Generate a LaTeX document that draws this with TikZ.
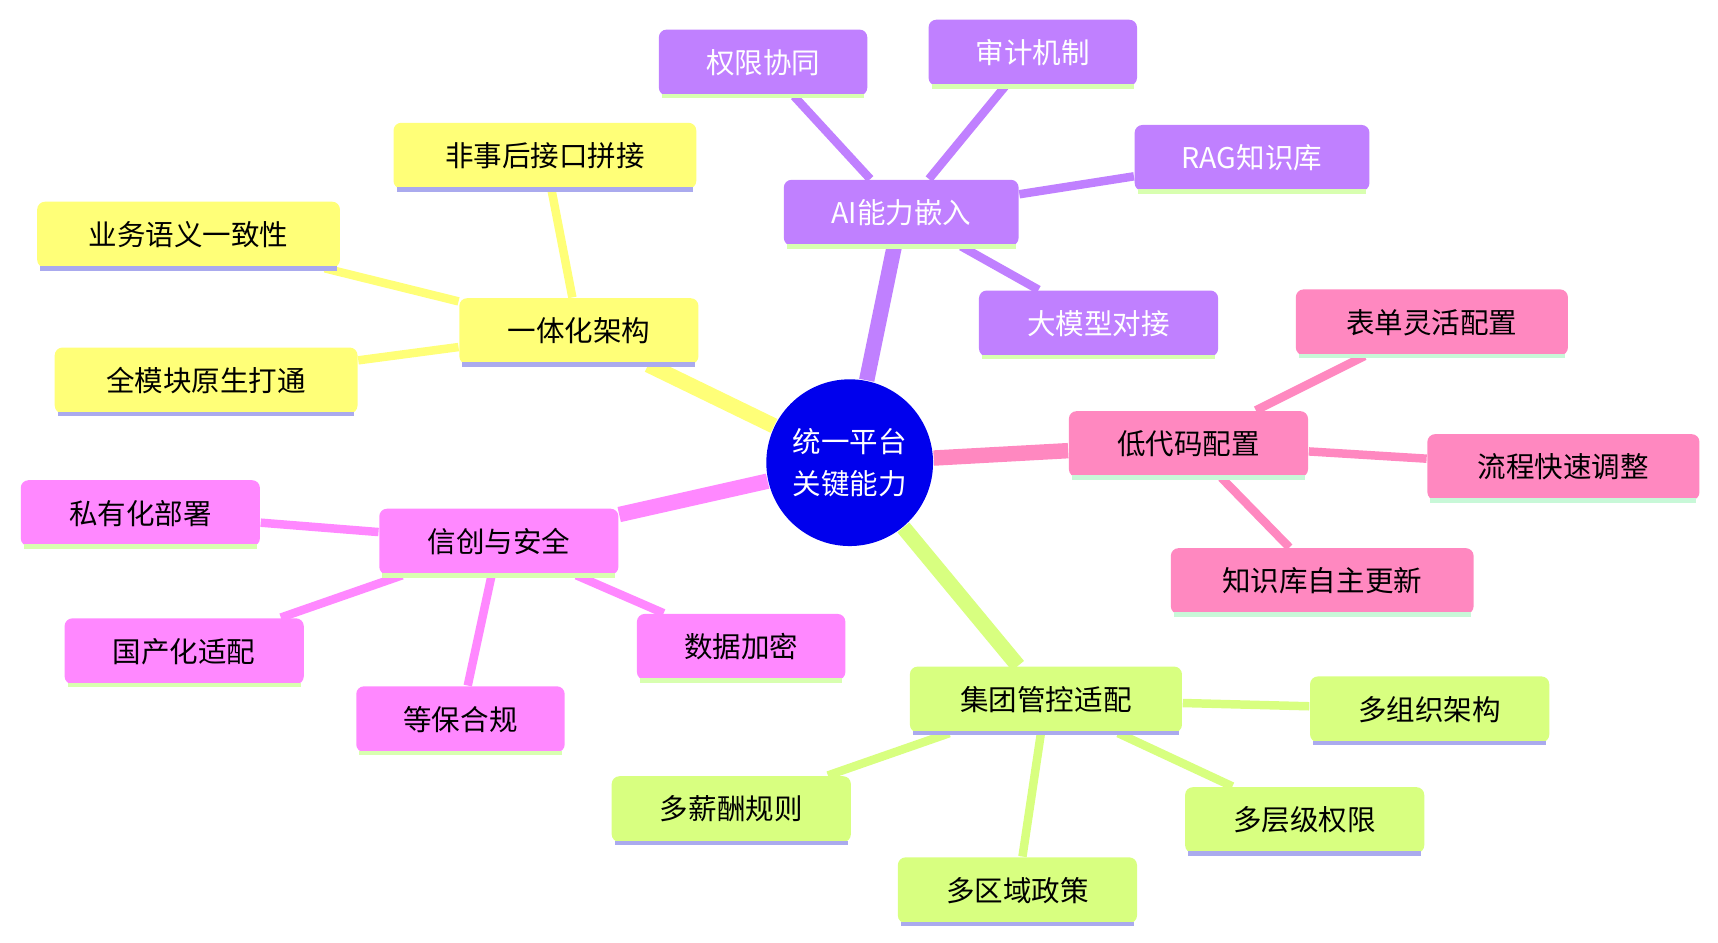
\documentclass[tikz,border=0pt]{standalone}
\usepackage{fontspec}
\setmainfont{Noto Sans CJK SC}
\usetikzlibrary{backgrounds}
\definecolor{yel}{HTML}{FFFF78}
\definecolor{pur}{HTML}{C080FF}
\definecolor{pnk}{HTML}{FF88C0}
\definecolor{mag}{HTML}{FF88FF}
\definecolor{grn}{HTML}{D8FF80}
\definecolor{lav}{HTML}{AAAAEE}
\definecolor{mnt}{HTML}{C8F8D8}
\definecolor{lgr}{HTML}{D8FFB0}
\tikzset{
  box/.style={rounded corners=2pt, minimum height=0.6cm, inner sep=0pt,
    font=\fontsize{7.4pt}{9pt}\selectfont},
  strip/.style={draw=#1, line width=1.2pt},
  trunk/.style={line width=4pt},
  twig/.style={line width=2.2pt}
}
\newcommand{\leaf}[6]{% name, x, y, width, fill, text
  \node[box, fill=#5, minimum width=#4cm] (#1) at (#2,#3) {#6};}
\begin{document}
\begin{tikzpicture}[x=0.01cm,y=-0.01cm]
\useasboundingbox (0,0) rectangle (1567,860);
% centre
\node[circle, fill=blue!93!black, minimum size=1.52cm, inner sep=0pt, text=white,
  align=center, font=\fontsize{7.4pt}{11pt}\selectfont] (root) at (775,422) {统一平台\\关键能力};
% yellow branch
\leaf{arch}{528}{302}{2.18}{yel}{一体化架构}
\leaf{noint}{497}{142}{2.76}{yel}{非事后接口拼接}
\leaf{sem}{172}{214}{2.76}{yel}{业务语义一致性}
\leaf{full}{188}{347}{2.76}{yel}{全模块原生打通}
% purple branch
\leaf{ai}{822}{194}{2.14}{pur}{\color{white}AI能力嵌入}
\leaf{perm}{696}{57}{1.90}{pur}{\color{white}权限协同}
\leaf{audit}{942}{48}{1.90}{pur}{\color{white}审计机制}
\leaf{rag}{1142}{144}{2.14}{pur}{\color{white}RAG知识库}
\leaf{llm}{1002}{295}{2.18}{pur}{\color{white}大模型对接}
% pink branch
\leaf{low}{1084}{405}{2.18}{pnk}{低代码配置}
\leaf{form}{1306}{294}{2.48}{pnk}{表单灵活配置}
\leaf{flow}{1426}{426}{2.48}{pnk}{流程快速调整}
\leaf{kb}{1206}{530}{2.76}{pnk}{知识库自主更新}
% magenta branch
\leaf{sec}{455}{494}{2.18}{mag}{信创与安全}
\leaf{priv}{128}{468}{2.18}{mag}{私有化部署}
\leaf{dom}{168}{594}{2.18}{mag}{国产化适配}
\leaf{mlps}{420}{656}{1.90}{mag}{等保合规}
\leaf{enc}{676}{590}{1.90}{mag}{数据加密}
% green branch
\leaf{grp}{954}{638}{2.48}{grn}{集团管控适配}
\leaf{org}{1304}{647}{2.18}{grn}{多组织架构}
\leaf{lvl}{1190}{748}{2.18}{grn}{多层级权限}
\leaf{reg}{928}{812}{2.18}{grn}{多区域政策}
\leaf{pay}{667}{738}{2.18}{grn}{多薪酬规则}
% bottom strips
\foreach \n in {arch,noint,sem,full,grp,org,lvl,reg,pay}
  \draw[strip=lav] ([xshift=1pt]\n.south west) -- ([xshift=-1pt]\n.south east);
\foreach \n in {ai,perm,audit,rag,llm,sec,priv,dom,mlps,enc}
  \draw[strip=lgr] ([xshift=1pt]\n.south west) -- ([xshift=-1pt]\n.south east);
\foreach \n in {low,form,flow,kb}
  \draw[strip=mnt] ([xshift=1pt]\n.south west) -- ([xshift=-1pt]\n.south east);
\begin{scope}[on background layer]
  \draw[trunk, yel] (root) -- (arch);
  \draw[trunk, pur] (root) -- (ai);
  \draw[trunk, pnk] (root) -- (low);
  \draw[trunk, mag] (root) -- (sec);
  \draw[trunk, grn] (root) -- (grp);
  \foreach \n in {noint,sem,full} \draw[twig, yel] (arch) -- (\n);
  \foreach \n in {perm,audit,rag,llm} \draw[twig, pur] (ai) -- (\n);
  \foreach \n in {form,flow,kb} \draw[twig, pnk] (low) -- (\n);
  \foreach \n in {priv,dom,mlps,enc} \draw[twig, mag] (sec) -- (\n);
  \foreach \n in {org,lvl,reg,pay} \draw[twig, grn] (grp) -- (\n);
\end{scope}
\end{tikzpicture}
\end{document}
